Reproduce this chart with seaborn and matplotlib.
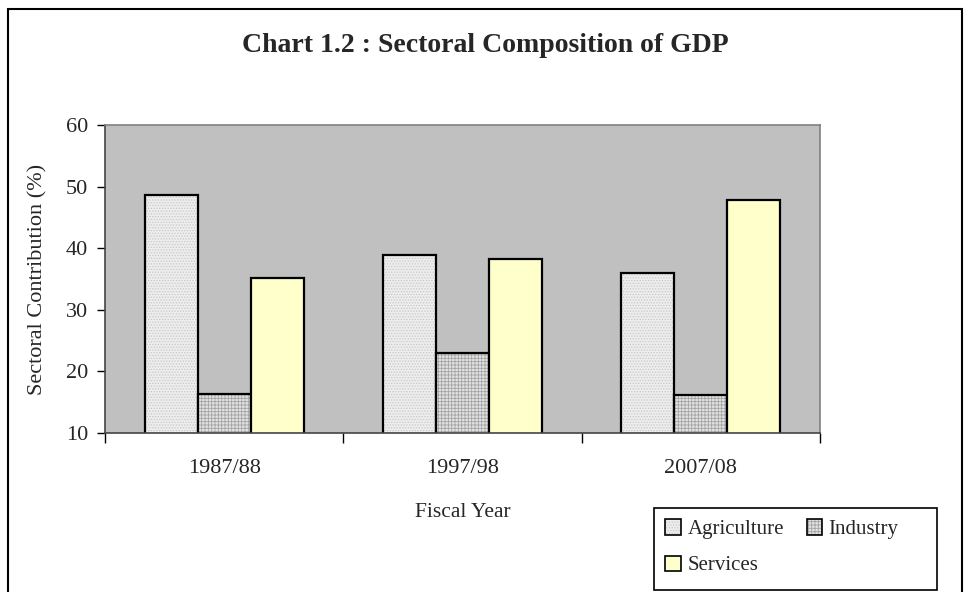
import numpy as np
import pandas as pd
import matplotlib
matplotlib.use("Agg")
import matplotlib.pyplot as plt
import matplotlib.colors as mcolors
from matplotlib.patches import Patch, Rectangle
import seaborn as sns

# data
years = ["1987/88", "1997/98", "2007/08"]
sectors = ["Agriculture", "Industry", "Services"]
agriculture = [48.7, 38.9, 36.0]
industry = [16.3, 23.0, 16.2]
services = [35.2, 38.2, 47.8]

sns.set_theme(style="white")
plt.rcParams["font.family"] = ["Liberation Serif", "DejaVu Serif"]
plt.rcParams["hatch.linewidth"] = 0.6

df = pd.DataFrame({
    "year": years * 3,
    "sector": np.repeat(sectors, 3),
    "value": agriculture + industry + services,
})

face = {"Agriculture": "#ededed", "Industry": "#e2e2e2", "Services": "#ffffcc"}
hatch = {"Agriculture": "......", "Industry": "+++++", "Services": ""}
hatch_col = {"Agriculture": "#c8c8c8", "Industry": "#a4a4a4", "Services": "#ffffcc"}

fig = plt.figure(figsize=(9.7, 5.92), dpi=100)
ax = fig.add_axes([105 / 970, 1 - 433 / 592, 715 / 970, 308 / 592])

sns.barplot(data=df, x="year", y="value", hue="sector", palette=face,
            width=2 / 3, edgecolor="black", linewidth=1.6, saturation=1,
            ax=ax, legend=False)

# grey hatch texture, black outline
for cont, s in zip(ax.containers, sectors):
    for bar in cont:
        bar.set_hatch(hatch[s])
        bar._hatch_color = mcolors.to_rgba(hatch_col[s])

ax.set_facecolor("#c0c0c0")
ax.set_ylim(10, 60)
ax.set_xlim(-0.5, 2.5)
ax.set_yticks(range(10, 61, 10))
ax.tick_params(axis="y", left=True, direction="out", length=6, width=1,
               color="black", labelsize=16, pad=6)
ax.tick_params(axis="x", which="major", bottom=True, length=0, labelsize=16, pad=19)
ax.set_xticks([-0.5, 0.5, 1.5, 2.5], minor=True)
ax.tick_params(axis="x", which="minor", bottom=True, direction="out",
               length=7, width=1, color="black")

for side in ["top", "right"]:
    ax.spines[side].set_color("#808080")
for side in ["left", "bottom"]:
    ax.spines[side].set_color("#444444")
for sp in ax.spines.values():
    sp.set_visible(True)
    sp.set_linewidth(1.2)

ax.set_xlabel("Fiscal Year", fontsize=15.5, labelpad=18)
ax.set_ylabel("Sectoral Contribution (%)", fontsize=16)
ax.yaxis.set_label_coords(-0.08, 0.5)

fig.text(0.5, 1 - 46 / 592, "Chart 1.2 : Sectoral Composition of GDP",
         ha="center", va="center", fontsize=20, fontweight="bold")

# outer chart border
fig.patches.append(Rectangle((8 / 970, -0.05), 954 / 970, 1 - 9 / 592 + 0.05,
                             transform=fig.transFigure, fill=False,
                             edgecolor="black", linewidth=1.5))

# legend box (extra room on the right, as in the original)
fig.patches.append(Rectangle((654 / 970, 1 - 590 / 592), 283 / 970, 82 / 592,
                             transform=fig.transFigure, facecolor="white",
                             edgecolor="black", linewidth=1.2))

order = ["Agriculture", "Services", "Industry"]
handles = []
for s in order:
    h = Patch(facecolor=face[s], edgecolor="black", hatch=hatch[s], label=s, linewidth=1.2)
    h._hatch_color = mcolors.to_rgba(hatch_col[s])
    handles.append(h)
leg = fig.legend(handles=handles, loc="upper left",
                 bbox_to_anchor=(654 / 970, 1 - 508 / 592), ncol=2,
                 frameon=False, fontsize=15, handlelength=0.75, handleheight=0.75,
                 handletextpad=0.3, columnspacing=1.1, borderpad=0.55,
                 labelspacing=0.78, borderaxespad=0)

fig.savefig("out.png", dpi=100)
